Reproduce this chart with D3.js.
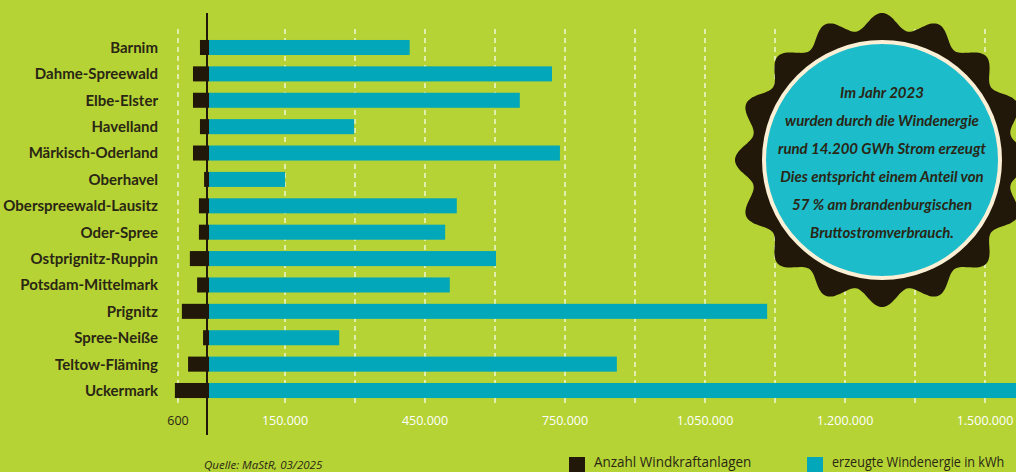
<!DOCTYPE html>
<html><head><meta charset="utf-8">
<script src="https://cdn.jsdelivr.net/npm/d3@7"></script>
<style>html,body{margin:0;padding:0;background:#b5d334;overflow:hidden}</style>
</head><body>
<svg id="chart" width="1016" height="472"></svg>
<script>
const districts = ["Barnim","Dahme-Spreewald","Elbe-Elster","Havelland","Märkisch-Oderland","Oberhavel","Oberspreewald-Lausitz","Oder-Spree","Ostprignitz-Ruppin","Potsdam-Mittelmark","Prignitz","Spree-Neiße","Teltow-Fläming","Uckermark"];
const turbines = [175, 310, 310, 175, 310, 95, 195, 195, 370, 230, 525, 115, 405, 660];
const energy = [430000, 735000, 666000, 311000, 752000, 163000, 531000, 506000, 615000, 516000, 1196000, 279000, 874000, 1850000];
const gridIndex = [0,1,2,3,4,5,6,7,8,9,10];
const tickIndex = [0,2,4,6,8,10];
const tickLabels = ["150.000","450.000","750.000","1.050.000","1.200.000","1.500.000"];
const turbineTick = 600;
const turbineTickLabel = "600";
const badgeLines = ["Im Jahr 2023","wurden durch die Windenergie","rund 14.200 GWh Strom erzeugt","Dies entspricht einem Anteil von","57 % am brandenburgischen","Bruttostromverbrauch."];
const legendItems = ["Anzahl Windkraftanlagen","erzeugte Windenergie in kWh"];
const source = "Quelle: MaStR, 03/2025";

const C = {bg:"#b5d334", blue:"#02a7b9", dark:"#22180a", text:"#2a2614", badge:"#1cbccb", cream:"#fbefd6"};
const svg = d3.select("#chart");
svg.append("rect").attr("width",1016).attr("height",472).attr("fill",C.bg);

const zeroX = 209;
const xE = d3.scaleLinear().domain([0, 1500000]).range([zeroX, zeroX + 700]);
const xT = d3.scaleLinear().domain([0, 600]).range([zeroX, 178]);
const xG = d3.scaleLinear().domain([0, 10]).range([285, 985]);
const y = d3.scaleBand().domain(districts).range([34.3, 403.7]).paddingInner(0.43).paddingOuter(0.215);

// grid
const grid = svg.append("g").attr("stroke","#ffffff").attr("stroke-opacity",0.8).attr("stroke-width",1.5).attr("stroke-dasharray","5,4");
grid.selectAll("line.g").data(gridIndex).join("line").attr("class","g")
  .attr("x1",d=>xG(d)).attr("x2",d=>xG(d)).attr("y1",29).attr("y2",406);
grid.append("line").attr("x1",xT(turbineTick)).attr("x2",xT(turbineTick)).attr("y1",29).attr("y2",406);

// bars
const rows = districts.map((d,i)=>({d, t:turbines[i], e:energy[i]}));
svg.append("g").selectAll("rect").data(rows).join("rect")
  .attr("x",zeroX).attr("y",r=>y(r.d)).attr("height",y.bandwidth())
  .attr("width",r=>xE(r.e)-zeroX).attr("fill",C.blue);
svg.append("g").selectAll("rect").data(rows).join("rect")
  .attr("x",r=>xT(r.t)).attr("y",r=>y(r.d)).attr("height",y.bandwidth())
  .attr("width",r=>zeroX-xT(r.t)).attr("fill",C.dark);

// zero axis
svg.append("line").attr("x1",207).attr("x2",207).attr("y1",13).attr("y2",435).attr("stroke",C.dark).attr("stroke-width",2);

// category labels
svg.append("g").selectAll("text").data(districts).join("text")
  .attr("x",158).attr("y",d=>y(d)+y.bandwidth()/2).attr("dy","0.36em")
  .attr("text-anchor","end").attr("font-family","Lato, sans-serif").attr("font-weight",700)
  .attr("font-size",15).attr("fill",C.text).text(d=>d);

// tick labels
svg.append("g").selectAll("text").data(tickIndex).join("text")
  .attr("x",d=>xG(d)).attr("y",425).attr("text-anchor","middle")
  .attr("font-family","'Open Sans', sans-serif").attr("font-size",12.5).attr("fill","#ffffff")
  .text((d,i)=>tickLabels[i]);
svg.append("text").attr("x",xT(turbineTick)).attr("y",425).attr("text-anchor","middle")
  .attr("font-family","'Open Sans', sans-serif").attr("font-size",12.5).attr("fill",C.text).text(turbineTickLabel);

// source
svg.append("text").attr("x",204).attr("y",469).attr("font-family","'Open Sans', sans-serif")
  .attr("font-style","italic").attr("font-size",11.5).attr("fill",C.text).text(source);

// legend
const lg = svg.append("g");
const legendX = [569, 807];
const legendColors = [C.dark, C.blue];
const legendSx = [0.9, 0.84];
legendItems.forEach((t,i)=>{
  lg.append("rect").attr("x",legendX[i]).attr("y",457).attr("width",16).attr("height",15).attr("fill",legendColors[i]);
  lg.append("text").attr("transform",`translate(${legendX[i]+25},467) scale(${legendSx[i]},1)`)
    .attr("font-family","'Open Sans', sans-serif")
    .attr("font-size",15).attr("fill",C.text).text(t);
});

// badge
const cx = 882, cy = 160;
const N = 16, rMid = 139, amp = 8;
const pts = d3.range(0, 360, 1).map(a=>{
  const th = a*Math.PI/180;
  return [th, rMid + amp*Math.cos(N*th)];
});
const radial = d3.lineRadial().angle(d=>d[0]).radius(d=>d[1]).curve(d3.curveCardinalClosed);
svg.append("path").attr("transform",`translate(${cx},${cy})`)
  .attr("d", radial(pts)).attr("fill",C.dark);
svg.append("circle").attr("cx",cx).attr("cy",cy).attr("r",118).attr("fill",C.badge)
  .attr("stroke",C.cream).attr("stroke-width",4);
svg.append("g").selectAll("text").data(badgeLines).join("text")
  .attr("x",cx).attr("y",(d,i)=>93+i*28).attr("dy","0.35em").attr("text-anchor","middle")
  .attr("font-family","Lato, sans-serif").attr("font-weight",700).attr("font-style","italic")
  .attr("font-size",15).attr("fill",C.text).text(d=>d);
</script>
</body></html>
